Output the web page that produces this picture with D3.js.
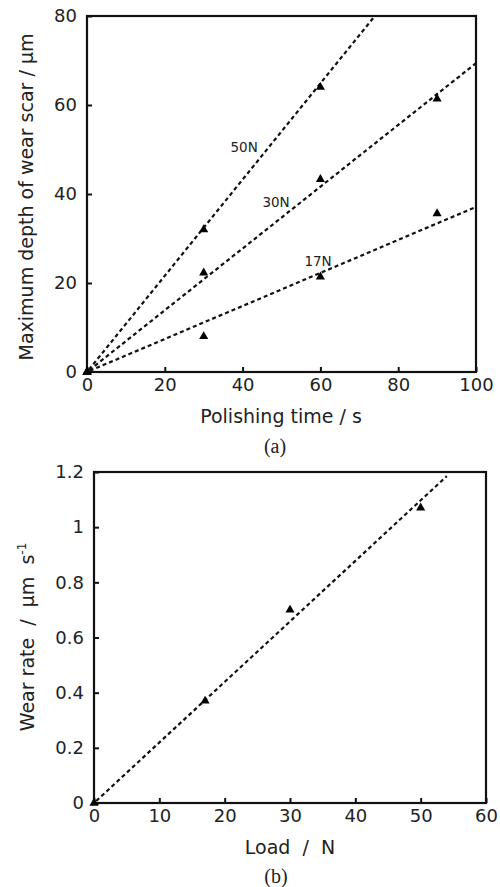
<!DOCTYPE html>
<html>
<head>
<meta charset="utf-8">
<script src="https://cdn.jsdelivr.net/npm/d3@7"></script>
<style>
  body { margin: 0; background: #fff; }
  svg { display: block; }
  text { font-family: "DejaVu Sans", Verdana, sans-serif; fill: #222; white-space: pre; }
</style>
</head>
<body>
<svg id="chart" width="500" height="887"></svg>
<script>
// (a) depth of wear scar vs polishing time
const polishTime = [0, 30, 60, 90];
const depth50N = [0, 32, 64];
const depth30N = [0, 22.3, 43.3, 61.4];
const depth17N = [0, 8, 21.4, 35.6];
const loadNames = ["50N", "30N", "17N"];
const fitEndA = [[74, 80], [100, 69.4], [100, 37.1]];
const nameAt = [[40.4, 49.4], [48.6, 37], [59.4, 23.8]];
const timeTicks = [0, 20, 40, 60, 80, 100];
const depthTicks = [0, 20, 40, 60, 80];

// (b) wear rate vs load
const loads = [0, 17, 30, 50];
const wearRate = [0, 0.37, 0.70, 1.07];
const fitEndB = [54, 1.185];
const loadTicks = [0, 10, 20, 30, 40, 50, 60];
const rateTicks = [0, 0.2, 0.4, 0.6, 0.8, 1, 1.2];

const svg = d3.select("#chart");

function panel(opt) {
    const { left, top, right, bottom } = opt.box;
    const x = d3.scaleLinear().domain(opt.xDomain).range([left, right]);
    const y = d3.scaleLinear().domain(opt.yDomain).range([bottom, top]);
    const g = svg.append("g");

    g.append("clipPath").attr("id", opt.id + "-clip")
        .append("rect")
        .attr("x", left).attr("y", top)
        .attr("width", right - left).attr("height", bottom - top);

    // axes, ticks pointing inward
    const xAxis = g.append("g")
        .attr("transform", `translate(0,${bottom})`)
        .call(d3.axisBottom(x).tickValues(opt.xTicks).tickSizeInner(-5).tickSizeOuter(0).tickPadding(6).tickFormat(d => String(d)));
    const yAxis = g.append("g")
        .attr("transform", `translate(${left},0)`)
        .call(d3.axisLeft(y).tickValues(opt.yTicks).tickSizeInner(-5).tickSizeOuter(0).tickPadding(10).tickFormat(d => String(d)));
    [xAxis, yAxis].forEach(a => {
        a.select(".domain").remove();
        a.selectAll(".tick line").attr("stroke", "#111").attr("stroke-width", 2);
        a.selectAll(".tick text").attr("font-size", 18).attr("fill", "#222")
            .attr("font-family", "DejaVu Sans, Verdana, sans-serif");
    });

    // frame
    g.append("rect")
        .attr("x", left).attr("y", top)
        .attr("width", right - left).attr("height", bottom - top)
        .attr("fill", "none").attr("stroke", "#111").attr("stroke-width", 2.2);

    // fitted lines
    const line = d3.line().x(d => x(d[0])).y(d => y(d[1]));
    g.append("g").attr("clip-path", `url(#${opt.id}-clip)`)
        .selectAll("path.fit")
        .data(opt.fits)
        .join("path")
        .attr("class", "fit")
        .attr("d", d => line([[0, 0], d]))
        .attr("fill", "none")
        .attr("stroke", "#111")
        .attr("stroke-width", 2.2)
        .attr("stroke-dasharray", "4,3")
        .attr("stroke-dashoffset", -3);

    // points
    const tri = d3.symbol().type(d3.symbolTriangle).size(36);
    g.append("g").selectAll("path.pt")
        .data(opt.points)
        .join("path")
        .attr("class", "pt")
        .attr("transform", d => `translate(${x(d[0])},${y(d[1])})`)
        .attr("d", tri)
        .attr("fill", "#000");

    // axis titles
    g.append("text")
        .attr("x", opt.xTitleX).attr("y", bottom + 51)
        .attr("text-anchor", "middle").attr("font-size", 19)
        .text(opt.xTitle);
    const yt = g.append("text")
        .attr("transform", `translate(${opt.yTitleX},${opt.yTitleY}) rotate(-90)`)
        .attr("text-anchor", "middle").attr("font-size", 19);
    opt.yTitle(yt);

    // panel tag
    g.append("text")
        .attr("x", opt.tagX).attr("y", opt.tagY)
        .attr("text-anchor", "middle")
        .style("font-family", "Liberation Serif, Times New Roman, serif")
        .attr("font-size", 20)
        .text(opt.tag);

    return { x, y, g };
}

// panel (a)
const pa = panel({
    id: "a",
    box: { left: 87, top: 16, right: 476, bottom: 372 },
    xDomain: [0, 100], yDomain: [0, 80],
    xTicks: timeTicks, yTicks: depthTicks,
    fits: fitEndA,
    points: [
        ...polishTime.slice(0, depth50N.length).map((t, i) => [t, depth50N[i]]),
        ...polishTime.map((t, i) => [t, depth30N[i]]),
        ...polishTime.map((t, i) => [t, depth17N[i]])
    ],
    xTitle: "Polishing time / s", xTitleX: 281,
    yTitleX: 33, yTitleY: 197,
    yTitle: t => t.text("Maximum depth of wear scar / µm"),
    tag: "(a)", tagX: 275, tagY: 453
});

pa.g.append("g").selectAll("text.lbl")
    .data(loadNames)
    .join("text")
    .attr("class", "lbl")
    .attr("x", (d, i) => pa.x(nameAt[i][0]))
    .attr("y", (d, i) => pa.y(nameAt[i][1]))
    .attr("text-anchor", "middle")
    .attr("font-size", 13.5)
    .attr("fill", "#333")
    .text(d => d);

// panel (b)
panel({
    id: "b",
    box: { left: 94, top: 472, right: 486, bottom: 803 },
    xDomain: [0, 60], yDomain: [0, 1.2],
    xTicks: loadTicks, yTicks: rateTicks,
    fits: [fitEndB],
    points: loads.map((l, i) => [l, wearRate[i]]),
    xTitle: "Load  /  N", xTitleX: 290,
    yTitleX: 34, yTitleY: 637,
    yTitle: t => {
        t.append("tspan").text("Wear rate  /  µm  s");
        t.append("tspan").attr("dy", -8).attr("font-size", 12).text("-1");
    },
    tag: "(b)", tagX: 276, tagY: 883
});
</script>
</body>
</html>
